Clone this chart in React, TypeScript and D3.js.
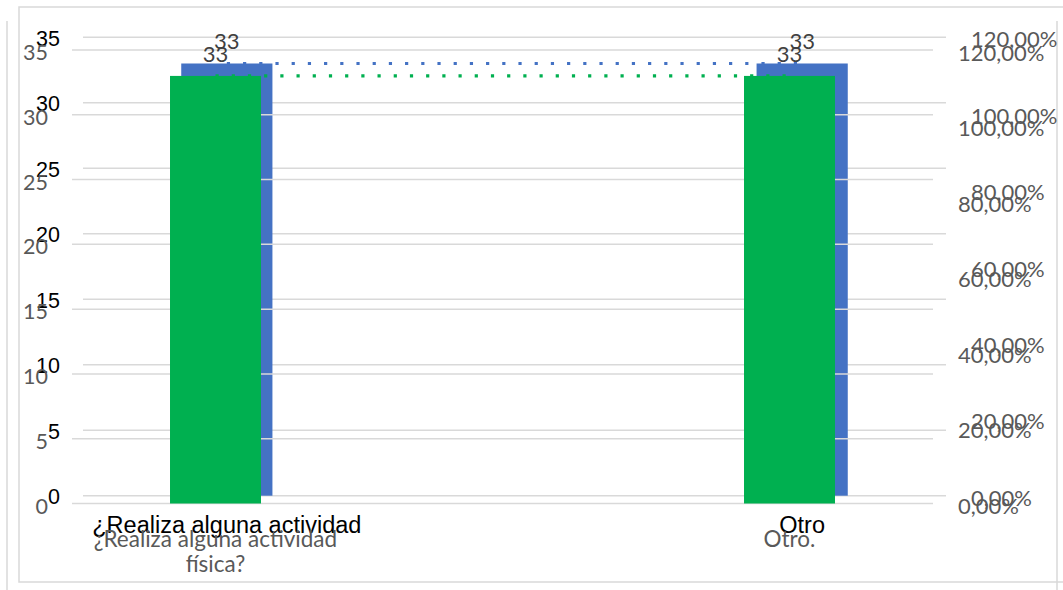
import React from 'react';
import * as d3 from 'd3';

// Survey answers and counts
const frontCategories = ['¿Realiza alguna actividad física?', 'Otro.'];
const backCategories = ['¿Realiza alguna actividad', 'Otro'];
const countValues = [33, 33];
const trendValues = [33, 33];
const countTicks = [0, 5, 10, 15, 20, 25, 30, 35];
const percentTicks = [0, 0.2, 0.4, 0.6, 0.8, 1.0, 1.2];

const W = 1063;
const H = 590;
const GRID = '#d9d9d9';
const GREY = '#595959';
const LABEL = '#404040';
const CALIBRI = 'Lato, "Open Sans", sans-serif';
const ARIAL = '"Liberation Sans", Arial, sans-serif';

const fmtPct = (v: number) => (v * 100).toFixed(2).replace('.', ',') + '%';

let measureCtx: CanvasRenderingContext2D | null = null;
function textWidth(s: string, font: string) {
  if (!measureCtx) measureCtx = document.createElement('canvas').getContext('2d');
  if (!measureCtx) return s.length * 10;
  measureCtx.font = font;
  return measureCtx.measureText(s).width;
}

function wrap(s: string, maxW: number, font: string) {
  const words = s.split(' ');
  const lines: string[] = [];
  let cur = '';
  for (const w of words) {
    const t = cur ? cur + ' ' + w : w;
    if (cur && textWidth(t, font) > maxW) {
      lines.push(cur);
      cur = w;
    } else cur = t;
  }
  if (cur) lines.push(cur);
  return lines;
}

type Layer = {
  categories: string[];
  x0: number;
  x1: number;
  yBottom: number;
  yTop: number;
  barColor: string;
  tickFont: string;
  tickSize: number;
  tickColor: string;
  tickRight: number;
  catSize: number;
  catY: number;
  catWrap: boolean;
  pctLeft: number;
  pctSize: number;
  valSize: number;
  dy: number;
};

function ChartLayer({ L }: { L: Layer }) {
  const x = d3.scalePoint<string>().domain(L.categories).range([L.x0, L.x1]).padding(0.25);
  const y = d3.scaleLinear().domain([0, 35]).range([L.yBottom, L.yTop]);
  const yPct = d3.scaleLinear().domain([0, 1.2]).range([L.yBottom, L.yTop]);
  const bw = x.step() * 0.1585;
  const cx = (i: number) => x(L.categories[i])!;
  const line = d3
    .line<number>()
    .x((_, i) => cx(i))
    .y((d) => y(d));
  const catFont = `${L.catSize}px ${L.tickFont}`;

  return (
    <g>
      {countTicks.map((t) => (
        <line key={'g' + t} x1={L.x0} x2={L.x1} y1={y(t)} y2={y(t)} stroke={GRID} strokeWidth={1.5} />
      ))}
      {countValues.map((v, i) => (
        <rect key={'b' + i} x={cx(i) - bw / 2} y={y(v)} width={bw} height={y(0) - y(v)} fill={L.barColor} />
      ))}
      <path
        d={line(trendValues) || ''}
        fill="none"
        stroke={L.barColor}
        strokeWidth={3.2}
        strokeDasharray="3.2 13"
      />
      {countValues.map((v, i) => (
        <text
          key={'v' + i}
          x={cx(i)}
          y={y(v) - 24 + L.dy}
          textAnchor="middle"
          dominantBaseline="central"
          fontFamily={CALIBRI}
          fontSize={L.valSize}
          fill={LABEL}
        >
          {v}
        </text>
      ))}
      {countTicks.map((t) => (
        <text
          key={'t' + t}
          x={L.tickRight}
          y={y(t) + L.dy}
          textAnchor="end"
          dominantBaseline="central"
          fontFamily={L.tickFont}
          fontSize={L.tickSize}
          fill={L.tickColor}
        >
          {t}
        </text>
      ))}
      {percentTicks.map((t) => (
        <text
          key={'p' + t}
          x={L.pctLeft}
          y={yPct(t) + L.dy}
          textAnchor="start"
          dominantBaseline="central"
          fontFamily={CALIBRI}
          fontSize={L.pctSize}
          fill={GREY}
        >
          {fmtPct(t)}
        </text>
      ))}
      {L.categories.map((c, i) => {
        const lines = L.catWrap ? wrap(c, 275, catFont) : [c];
        return (
          <text
            key={'c' + i}
            x={cx(i)}
            y={L.catY}
            textAnchor="middle"
            dominantBaseline="central"
            fontFamily={L.tickFont}
            fontSize={L.catSize}
            fill={L.tickColor}
          >
            {lines.map((ln, j) => (
              <tspan key={j} x={cx(i)} dy={j === 0 ? 0 : 25}>
                {ln}
              </tspan>
            ))}
          </text>
        );
      })}
    </g>
  );
}

const backLayer: Layer = {
  categories: backCategories,
  x0: 83,
  x1: 946,
  yBottom: 495.7,
  yTop: 37.3,
  barColor: '#4472c4',
  tickFont: ARIAL,
  tickSize: 21.5,
  tickColor: '#000000',
  tickRight: 60,
  catSize: 23.5,
  catY: 525,
  catWrap: false,
  pctLeft: 971,
  pctSize: 22,
  valSize: 22,
  dy: 1.5,
};

const frontLayer: Layer = {
  categories: frontCategories,
  x0: 72,
  x1: 933,
  yBottom: 503.5,
  yTop: 50,
  barColor: '#00b050',
  tickFont: CALIBRI,
  tickSize: 21.5,
  tickColor: GREY,
  tickRight: 48,
  catSize: 22.5,
  catY: 538,
  catWrap: true,
  pctLeft: 958,
  pctSize: 22,
  valSize: 22,
  dy: 2,
};

export default function App() {
  return (
    <svg
      width={W}
      height={H}
      viewBox={`0 0 ${W} ${H}`}
      style={{ position: 'absolute', left: 0, top: 0, background: '#ffffff' }}
    >
      <rect x={0} y={0} width={W} height={H} fill="#ffffff" />
      {/* rear chart frame */}
      <line x1={7} x2={7} y1={21} y2={H} stroke={GRID} strokeWidth={1.5} />
      <line x1={1057} x2={1057} y1={21} y2={H} stroke={GRID} strokeWidth={1.5} />
      <ChartLayer L={backLayer} />
      {/* front chart frame */}
      <path d={`M ${W + 2} 7 H 19 V 582 H ${W + 2}`} fill="none" stroke={GRID} strokeWidth={1.5} />
      <ChartLayer L={frontLayer} />
    </svg>
  );
}
